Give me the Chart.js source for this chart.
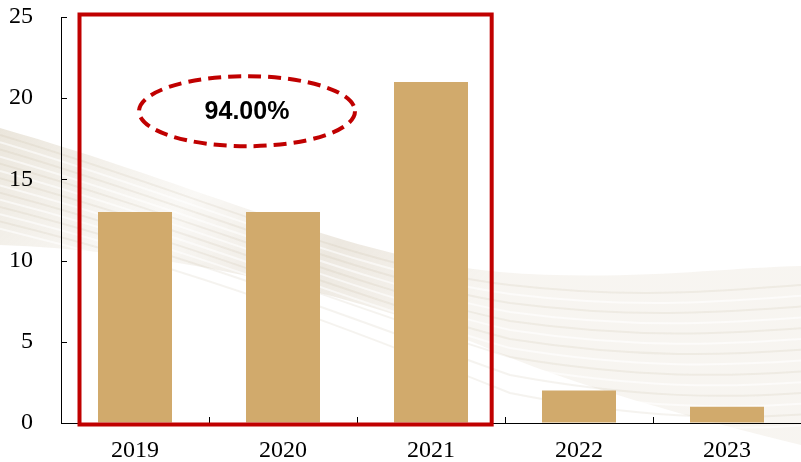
<!DOCTYPE html>
<html>
<head>
<meta charset="utf-8">
<script src="https://cdn.jsdelivr.net/npm/chart.js@4.4.1/dist/chart.umd.min.js"></script>
<style>
  body { margin: 0; background: #fff; }
  #wrap { width: 801px; height: 462px; }
</style>
</head>
<body>
<div id="wrap"><canvas id="bars" width="801" height="462"></canvas></div>
<script>
const years = ['2019', '2020', '2021', '2022', '2023']
const counts = [13, 13, 21, 2, 1]
const yMax = 25
const yStep = 5
const growthLabel = '94.00%'

// silky ribbon in the background
const bgWave = {
  id: 'bgWave',
  beforeDraw(chart) {
    const c = chart.ctx
    c.save()
    c.beginPath()
    c.moveTo(0, 128)
    c.bezierCurveTo(200, 185, 350, 258, 500, 272)
    c.bezierCurveTo(620, 282, 720, 268, 801, 266)
    c.lineTo(801, 445)
    c.bezierCurveTo(700, 420, 570, 385, 480, 345)
    c.bezierCurveTo(330, 285, 150, 250, 0, 245)
    c.closePath()
    const g = c.createLinearGradient(0, 130, 300, 460)
    g.addColorStop(0, 'rgba(215,205,185,0.5)')
    g.addColorStop(0.4, 'rgba(240,236,228,0.35)')
    g.addColorStop(0.7, 'rgba(210,198,178,0.4)')
    g.addColorStop(1, 'rgba(230,222,208,0.3)')
    c.fillStyle = g
    c.fill()
    // strands
    for (let i = 0; i < 14; i++) {
      const o = i * 9
      c.beginPath()
      c.moveTo(0, 135 + o * 0.8)
      c.bezierCurveTo(200, 195 + o * 0.7, 360, 268 + o * 0.6, 510, 285 + o)
      c.bezierCurveTo(640, 300 + o * 1.1, 730, 290 + o * 1.2, 801, 285 + o * 1.2)
      c.strokeStyle = i % 2 ? 'rgba(255,255,255,0.6)' : 'rgba(190,175,150,0.15)'
      c.lineWidth = 2
      c.stroke()
    }
    c.restore()
  }
}

// inward tick marks and the red highlight
const marks = {
  id: 'marks',
  afterDraw(chart) {
    const c = chart.ctx
    const x = chart.scales.x
    const y = chart.scales.y
    const area = chart.chartArea
    c.save()
    c.strokeStyle = '#000'
    c.lineWidth = 1
    c.beginPath()
    for (let v = 0; v <= yMax; v += yStep) {
      const py = Math.round(y.getPixelForValue(v)) + 0.5
      c.moveTo(area.left, py)
      c.lineTo(area.left + 6, py)
    }
    const half = (x.getPixelForValue(1) - x.getPixelForValue(0)) / 2
    for (let i = 0; i < years.length - 1; i++) {
      const px = Math.round(x.getPixelForValue(i) + half) + 0.5
      c.moveTo(px, area.bottom)
      c.lineTo(px, area.bottom - 6)
    }
    c.stroke()

    // box around 2019-2021
    const w = half * 2
    const left = x.getPixelForValue(0) - w * 0.375
    const right = x.getPixelForValue(2) + w * 0.41
    c.strokeStyle = '#C00000'
    c.lineWidth = 4
    c.strokeRect(left, area.top - 2.5, right - left, area.bottom - area.top + 4)

    // dashed ellipse with growth rate
    const cx = (x.getPixelForValue(0) + x.getPixelForValue(1)) / 2 + 38
    const cy = y.getPixelForValue(19.2)
    c.setLineDash([13, 7])
    c.beginPath()
    c.ellipse(cx, cy, 108, 35, 0, 0, Math.PI * 2)
    c.stroke()
    c.setLineDash([])
    c.fillStyle = '#000'
    c.font = 'bold 25px "Liberation Sans", Arial, sans-serif'
    c.textAlign = 'center'
    c.textBaseline = 'middle'
    c.fillText(growthLabel, cx, cy + 1)
    c.restore()
  }
}

new Chart(document.getElementById('bars').getContext('2d'), {
  type: 'bar',
  data: {
    labels: years,
    datasets: [{
      data: counts,
      backgroundColor: '#D1AA6C',
      borderWidth: 0,
      categoryPercentage: 1,
      barPercentage: 0.5
    }]
  },
  options: {
    responsive: false,
    animation: false,
    layout: { padding: { top: 17, left: 0, right: 0, bottom: 0 } },
    plugins: {
      legend: { display: false },
      tooltip: { enabled: false }
    },
    scales: {
      x: {
        grid: { display: true, drawOnChartArea: false, drawTicks: true, tickLength: 13, tickColor: 'rgba(0,0,0,0)' },
        border: { display: true, color: '#000', width: 1 },
        ticks: {
          color: '#000',
          padding: 0,
          font: { family: '"Liberation Serif", "Times New Roman", serif', size: 24 }
        },
        afterFit(scale) { scale.height = 39 }
      },
      y: {
        min: 0,
        max: yMax,
        grid: { display: true, drawOnChartArea: false, drawTicks: true, tickLength: 28, tickColor: 'rgba(0,0,0,0)' },
        border: { display: true, color: '#000', width: 1 },
        ticks: {
          stepSize: yStep,
          color: '#000',
          padding: 0,
          font: { family: '"Liberation Serif", "Times New Roman", serif', size: 24 }
        },
        afterFit(scale) { scale.width = 61 }
      }
    }
  },
  plugins: [bgWave, marks]
})
</script>
</body>
</html>
